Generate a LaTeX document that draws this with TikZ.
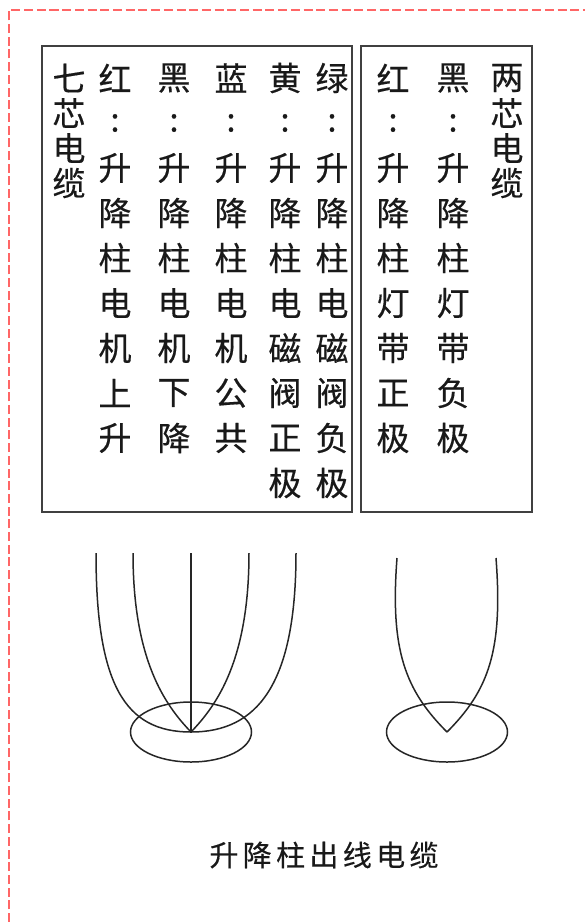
\documentclass[tikz,border=0pt]{standalone}
\usepackage{fontspec}
\setmainfont{Noto Sans CJK SC}[FakeBold=0.4]

\begin{document}
\begin{tikzpicture}[x=1pt,y=-1pt,
    wire/.style={draw=black!85,line width=1.5pt},
    frame/.style={draw=black!75,line width=1.4pt},
    hanzi/.style={font=\fontsize{33}{33}\selectfont,inner sep=0pt,text=black!90}]
  \useasboundingbox (0,0) rectangle (585,922);
  % dashed border
  \draw[red!60,line width=1.4pt,dash pattern=on 9pt off 3.7pt] (9,922) -- (9,10) -- (585,10);

  % the two label boxes
  \draw[frame] (42,46) rectangle (352,512);
  \draw[frame] (361,46) rectangle (532,512);

  \foreach \c [count=\i from 0] in {七,芯,电,缆}
    \node[hanzi] (qi\i) at (69,78+35*\i) {\c};
  \foreach \c [count=\i from 0] in {两,芯,电,缆}
    \node[hanzi] (liang\i) at (507,78+35*\i) {\c};

  % one column per core
  \foreach \x/\txt [count=\k] in {
      115/{红,:,升,降,柱,电,机,上,升},
      174/{黑,:,升,降,柱,电,机,下,降},
      231/{蓝,:,升,降,柱,电,机,公,共},
      285/{黄,:,升,降,柱,电,磁,阀,正,极},
      332/{绿,:,升,降,柱,电,磁,阀,负,极},
      393/{红,:,升,降,柱,灯,带,正,极},
      453/{黑,:,升,降,柱,灯,带,负,极}}
    \foreach \c [count=\i from 0] in \txt
      \node[hanzi] (c\k-\i) at (\x,78+45*\i) {\c};

  % seven core cable
  \coordinate (knot) at (191,732);
  \draw[wire] (knot) ellipse [x radius=60.5pt,y radius=30pt];
  \draw[wire] (96,553) .. controls (96,685) and (125,732) .. (knot);
  \draw[wire] (296,553) .. controls (296,685) and (257,732) .. (knot);
  \draw[wire] (133,553) .. controls (133,660) and (165,705) .. (knot);
  \draw[wire] (249,553) .. controls (249,660) and (217,705) .. (knot);
  \draw[wire] (191,553) -- (knot);

  % two core cable
  \coordinate (tip) at (447,732);
  \draw[wire] (tip) ellipse [x radius=60.5pt,y radius=30pt];
  \draw[wire] (397,558) .. controls (390,650) and (405,690) .. (tip);
  \draw[wire] (496,558) .. controls (503,650) and (489,690) .. (tip);

  \node[font=\fontsize{29}{29}\selectfont\addfontfeature{LetterSpace=15},text=black!90]
    (title) at (324,855) {升降柱出线电缆};
\end{tikzpicture}
\end{document}
